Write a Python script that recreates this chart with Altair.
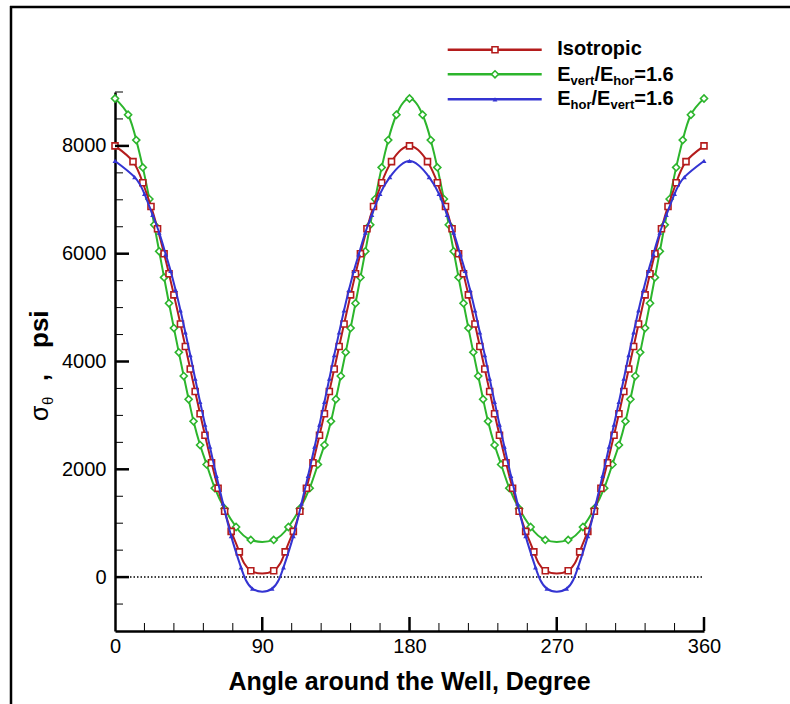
import altair as alt
import pandas as pd

# ---------------- data ----------------
red_angle = [0, 11, 17, 22, 26, 30, 33, 36, 40, 43, 46, 49, 52, 55, 59, 63, 67, 71, 76, 83,
             97, 104, 109, 113, 117, 121, 125, 128, 131, 134, 137, 140, 144, 147, 150, 154, 158, 163, 169, 180,
             191, 197, 202, 206, 210, 213, 216, 220, 223, 226, 229, 232, 235, 239, 243, 247, 251, 256, 263,
             277, 284, 289, 293, 297, 301, 305, 308, 311, 314, 317, 320, 324, 327, 330, 334, 338, 343, 349, 360]
red_value = [8000, 7709, 7316, 6877, 6463, 6000, 5627, 5236, 4695, 4279, 3860, 3443, 3032, 2632, 2122, 1649, 1221, 848, 468, 119,
             119, 468, 848, 1221, 1649, 2122, 2632, 3032, 3443, 3860, 4279, 4695, 5236, 5627, 6000, 6463, 6877, 7316, 7709, 8000,
             7709, 7316, 6877, 6463, 6000, 5627, 5236, 4695, 4279, 3860, 3443, 3032, 2632, 2122, 1649, 1221, 848, 468, 119,
             119, 468, 848, 1221, 1649, 2122, 2632, 3032, 3443, 3860, 4279, 4695, 5236, 5627, 6000, 6463, 6877, 7316, 7709, 8000]

green_angle = [0, 8, 13, 17, 21, 24, 27, 30, 33, 36, 39, 42, 45, 48, 52, 56, 61, 67, 74, 83,
               97, 106, 113, 119, 124, 128, 132, 135, 138, 141, 144, 147, 150, 153, 156, 159, 163, 167, 172, 180,
               188, 193, 197, 201, 204, 207, 210, 213, 216, 219, 222, 225, 228, 232, 236, 241, 247, 254, 263,
               277, 286, 293, 299, 304, 308, 312, 315, 318, 321, 324, 327, 330, 333, 336, 339, 343, 347, 352, 360]
green_value = [8880, 8578, 8108, 7601, 7014, 6536, 6044, 5560, 5080, 4620, 4170, 3730, 3300, 2890, 2450, 2090, 1650, 1270, 930, 690,
               690, 930, 1270, 1650, 2090, 2450, 2890, 3300, 3730, 4170, 4620, 5080, 5560, 6044, 6536, 7014, 7601, 8108, 8578, 8880,
               8578, 8108, 7601, 7014, 6536, 6044, 5560, 5080, 4620, 4170, 3730, 3300, 2890, 2450, 2090, 1650, 1270, 930, 690,
               690, 930, 1270, 1650, 2090, 2450, 2890, 3300, 3730, 4170, 4620, 5080, 5560, 6044, 6536, 7014, 7601, 8108, 8578, 8880]

blue_angle = [0, 12, 18, 23, 27, 31, 34, 37, 40, 43, 46, 49, 52, 55, 58, 62, 66, 71, 77, 84,
              96, 103, 109, 114, 118, 122, 125, 128, 131, 134, 137, 140, 143, 146, 149, 153, 157, 162, 168, 180,
              192, 198, 203, 207, 211, 214, 217, 220, 223, 226, 229, 232, 235, 238, 242, 246, 251, 257, 264,
              276, 283, 289, 294, 298, 302, 305, 308, 311, 314, 317, 320, 323, 326, 329, 333, 337, 342, 348, 360]
blue_value = [7720, 7420, 7110, 6720, 6390, 5990, 5680, 5330, 4950, 4540, 4120, 3680, 3250, 2830, 2420, 1880, 1370, 760, 180, -215,
              -215, 180, 760, 1370, 1880, 2420, 2830, 3250, 3680, 4120, 4540, 4950, 5330, 5680, 5990, 6390, 6720, 7110, 7420, 7720,
              7420, 7110, 6720, 6390, 5990, 5680, 5330, 4950, 4540, 4120, 3680, 3250, 2830, 2420, 1880, 1370, 760, 180, -215,
              -215, 180, 760, 1370, 1880, 2420, 2830, 3250, 3680, 4120, 4540, 4950, 5330, 5680, 5990, 6390, 6720, 7110, 7420, 7720]

series_names = ["Isotropic", "Evert/Ehor=1.6", "Ehor/Evert=1.6"]

x_label_values = [0, 90, 180, 270, 360]
y_label_values = [0, 2000, 4000, 6000, 8000]
x_major_ticks = [90, 180, 270, 360]
x_minor_ticks = [18, 36, 54, 72, 108, 126, 144, 162, 198, 216, 234, 252, 288, 306, 324, 342]
y_major_ticks = [0, 2000, 4000, 6000, 8000]
y_minor_ticks = [-500, 500, 1000, 1500, 2500, 3000, 3500, 4500, 5000, 5500, 6500, 7000, 7500, 8500, 9000]

# ---------------- styling ----------------
W, H = 589, 539
FONT = "Liberation Sans"
RED, GREEN, BLUE = "#b41c1c", "#2cb52c", "#3434d2"

xs = alt.Scale(domain=[0, 360], nice=False, zero=False)
ys = alt.Scale(domain=[-1000, 9000], nice=False, zero=False)

AX = alt.Axis(values=x_label_values, ticks=False, grid=False,
              domainColor="black", domainWidth=2.5,
              labelFont=FONT, labelFontSize=20, labelColor="black",
              labelPadding=5, labelFlush=False, title=None, format="d")
AY = alt.Axis(values=y_label_values, ticks=False, grid=False,
              domainColor="black", domainWidth=2.5,
              labelFont=FONT, labelFontSize=20, labelColor="black",
              labelPadding=9, title=None, format="d")

one = pd.DataFrame({"k": [0]})


def series_layers(ang, val, color, shape, size, filled):
    d = pd.DataFrame({"angle": ang, "value": val})
    base = alt.Chart(d).encode(
        x=alt.X("angle:Q", scale=xs, axis=AX),
        y=alt.Y("value:Q", scale=ys, axis=AY),
        order="angle:Q",
    )
    line = base.mark_line(color=color, strokeWidth=2, interpolate="natural", clip=True)
    if filled:
        pts = base.mark_point(shape=shape, size=size, filled=True, color=color, opacity=1)
    else:
        pts = base.mark_point(shape=shape, size=size, fill="white", fillOpacity=1,
                              stroke=color, strokeWidth=1.6, opacity=1)
    return [line, pts]


def xticks(vals, length, width):
    return alt.Chart(pd.DataFrame({"angle": vals})).mark_rule(color="black", strokeWidth=width).encode(
        x=alt.X("angle:Q", scale=xs, axis=AX), y=alt.value(H), y2=alt.value(H - length))


def yticks(vals, length, width):
    return alt.Chart(pd.DataFrame({"value": vals})).mark_rule(color="black", strokeWidth=width).encode(
        y=alt.Y("value:Q", scale=ys, axis=AY), x=alt.value(0), x2=alt.value(length))


zero_line = alt.Chart(pd.DataFrame({"value": [0]})).mark_rule(
    color="black", strokeWidth=1.5, strokeDash=[1.5, 2]).encode(
    y=alt.Y("value:Q", scale=ys, axis=AY), x=alt.value(15), x2=alt.value(W - 2))


def txt(s, x, y, size, bold=True, angle=0, dy=0, align="left"):
    return alt.Chart(one).mark_text(
        text=s, font=FONT, fontSize=size, fontWeight="bold" if bold else "normal",
        color="black", align=align, baseline="alphabetic", angle=angle, dy=dy,
    ).encode(x=alt.value(x), y=alt.value(y))


def hrule(x1, x2, y, color, width):
    return alt.Chart(one).mark_rule(color=color, strokeWidth=width).encode(
        x=alt.value(x1), x2=alt.value(x2), y=alt.value(y))


def vrule(x, y1, y2, color, width):
    return alt.Chart(one).mark_rule(color=color, strokeWidth=width).encode(
        x=alt.value(x), y=alt.value(y1), y2=alt.value(y2))


def legend_marker(x, y, color, shape, size, filled):
    if filled:
        return alt.Chart(one).mark_point(shape=shape, size=size, filled=True, color=color, opacity=1).encode(
            x=alt.value(x), y=alt.value(y))
    return alt.Chart(one).mark_point(shape=shape, size=size, fill="white", fillOpacity=1,
                                     stroke=color, strokeWidth=1.6, opacity=1).encode(
        x=alt.value(x), y=alt.value(y))


layers = [zero_line]
layers += series_layers(green_angle, green_value, GREEN, "diamond", 50, False)
layers += series_layers(red_angle, red_value, RED, "square", 36, False)
layers += series_layers(blue_angle, blue_value, BLUE, "triangle-up", 24, True)
layers += [xticks(x_minor_ticks, 8, 1), xticks(x_major_ticks, 14, 2.5),
           yticks(y_minor_ticks, 8, 1), yticks(y_major_ticks, 14, 2.5)]

# legend
LX1, LX2, LXM, TX = 332.7, 426.7, 380, 442.3
rows = [-42.3, -17.7, 7.3]
layers += [hrule(LX1, LX2, rows[0], RED, 2.5), legend_marker(LXM, rows[0], RED, "square", 36, False),
           hrule(LX1, LX2, rows[1], GREEN, 2.5), legend_marker(LXM, rows[1], GREEN, "diamond", 50, False),
           hrule(LX1, LX2, rows[2], BLUE, 2.5), legend_marker(LXM, rows[2], BLUE, "triangle-up", 24, True)]
layers += [txt(series_names[0], TX, -37, 20)]
b2, b3 = -11.3, 13
layers += [txt("E", TX, b2, 20), txt("vert", 455.6, b2 + 4, 13), txt("/", 479.4, b2, 20),
           txt("E", 485.0, b2, 20), txt("hor", 498.3, b2 + 4, 13), txt("=1.6", 519.2, b2, 20)]
layers += [txt("E", TX, b3, 20), txt("hor", 455.6, b3 + 4, 13), txt("/", 476.5, b3, 20),
           txt("E", 482.1, b3, 20), txt("vert", 495.4, b3 + 4, 13), txt("=1.6", 519.2, b3, 20)]

# axis titles
layers += [txt("Angle around the Well, Degree", W / 2, 598, 25, align="center")]
layers += [txt("\u03c3", -67, 329, 25, bold=False, angle=270),
           txt("\u03b8", -67, 313, 15, bold=False, angle=270, dy=5),
           txt(",", -67, 289, 25, angle=270),
           txt("psi", -67, 256, 26, angle=270)]

# outer frame lines (left and top)
layers += [vrule(-104, -86, 704 - 92, "black", 2.5), hrule(-105, 790 - 115, -85, "black", 2.5)]

chart = alt.layer(*layers).properties(
    width=W, height=H,
    padding={"left": 115, "top": 92, "right": 86, "bottom": 73},
    autosize=alt.AutoSizeParams(type="none"),
    background="white",
).configure_view(strokeWidth=0)

chart.save("out.html", embed_options={"renderer": "svg", "actions": False})
